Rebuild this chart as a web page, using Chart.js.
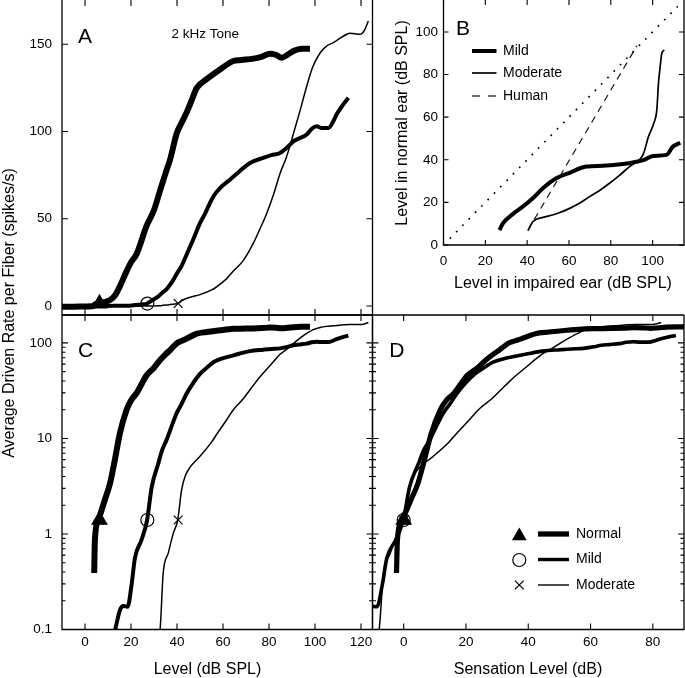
<!DOCTYPE html>
<html>
<head>
<meta charset="utf-8">
<script src="https://cdn.jsdelivr.net/npm/chart.js@4.4.1/dist/chart.umd.min.js"></script>
<style>
html,body{margin:0;padding:0;background:#fff;width:685px;height:678px;overflow:hidden}
canvas{position:absolute;left:0;top:0}
</style>
</head>
<body>
<canvas id="cA" width="685" height="678"></canvas>
<canvas id="cB" width="685" height="678"></canvas>
<canvas id="cC" width="685" height="678"></canvas>
<canvas id="cD" width="685" height="678"></canvas>
<script>
// ---------------- DATA ----------------
const levelTicks = [0, 20, 40, 60, 80, 100, 120];
const rateTicks = [0, 50, 100, 150];
const logTicks = [0.1, 1, 10, 100];
const logTickLabels = ['0.1', '1', '10', '100'];
const logMinorTicks = [0.2,0.3,0.4,0.5,0.6,0.7,0.8,0.9, 2,3,4,5,6,7,8,9, 20,30,40,50,60,70,80,90];
const slTicks = [0, 20, 40, 60, 80];
const bTicks = [0, 20, 40, 60, 80, 100];

// Panel A/C: level (dB SPL) vs average driven rate (spikes/s)
const normalLevel = [-10,-5,0,3,4,4.3,5.8,8.7,10.9,13,15.2,18.1,20,22.5,26.8,30,32.6,35,37,39.9,42,44.2,46.4,48.6,52.9,58.7,64.5,68,73.2,77,80.4,83,85.5,88,90.6,94,97.8];
const normalRate  = [-0.4,-0.4,-0.3,-0.2,0.39,0.87,1.4,2.3,3.4,6,11.4,20,25,30,46,55,66,76,84,99,105,111,118,125,130,135.6,140.4,141,141.8,143,144.6,144,142.3,144,146.2,147.5,147.5];

const mildLevel = [-10,0,8,13,15.2,16.7,18.5,20.3,21.7,24.6,27,29,31.9,33.5,35.5,38.4,39.9,42,44.2,47,50,52.2,55.8,59,63,67,71.7,77.5,81,84.8,88,90.6,93,96.4,98.5,100.7,103,105.8,108,109.4,112,114.5];
const mildRate  = [0.02,0.03,0.05,0.098,0.16,0.176,0.173,0.3,0.56,0.87,1.4,3.1,5.5,7.5,9.7,15,18.5,23,29.5,38,47.5,53,62.8,68,72.4,77,82,84.9,86.5,87.7,91,94.4,96,98.3,101.5,103,102,102,106,109.8,115,119.4];

const moderateLevel = [-10,10,20,28,32.6,34,36.2,38.4,40.3,42,43.5,45.7,50,55.1,57.2,61.6,64.5,68.8,73.2,76,79,82,84.8,87.5,89.8,93.5,96.4,99,102.2,105,108,111.5,115.2,119.6,121.5,123.2];
const moderateRate  = [0.02,0.02,0.03,0.05,0.098,0.39,0.63,1.02,1.4,2.9,4,5,6.5,9.2,11,15.7,20,26,36,44,53,64,76,85,95,112,126,137,145,149,151,154,156.3,155.7,158,163.4];

// thresholds (markers) : level in dB SPL, rate criterion
const thresholdLevels = { normal: 6.3, mild: 27.1, moderate: 40.5 };
const thresholdRate = 1.4;

// Panel B: level in impaired ear vs level in normal ear
const bMildImpaired = [26.8,27.5,28.4,31.6,34.5,37.9,42.7,47.5,53.9,60.3,68.3,76.2,85.8,92.2,96,100.2,106.6,109.7,113.2];
const bMildNormal   = [7,8.5,10.2,13.3,15.6,18,21.9,26.6,31.3,33.9,36.8,37.2,38,39.1,40,41.8,42.3,46.2,48];
const bModImpaired  = [40.4,41.5,42.7,45,49.1,55,60.3,65,69.9,75,79.4,84,89,93,95.5,98,100.5,102,102.8,103.6,104.4,105.6];
const bModNormal    = [6.7,9,10.9,12.3,13.3,15,17.2,19.6,22.7,25.8,29,32.6,36.8,39.5,42.5,50.8,57,63.4,76,83.7,90,91.5];
const bHumanImpaired = [40.4, 92.5];
const bHumanNormal   = [7, 93.5];
const bIdentity      = [3, 112];

// ---------------- HELPERS ----------------
const W = 685, H = 678;
const FONT = '"Liberation Sans", Arial, Helvetica, sans-serif';
Chart.defaults.font.family = FONT;
Chart.defaults.color = '#000';

const pts = (xs, ys) => xs.map((x, i) => ({ x: x, y: ys[i] }));
const shift = (xs, ys, t) => xs.map((x, i) => ({ x: x - t, y: ys[i] }));

function lineDs(data, width, extra) {
  return Object.assign({
    data: data, borderColor: '#000', borderWidth: width, pointRadius: 0,
    fill: false, showLine: true, cubicInterpolationMode: 'monotone',
    borderCapStyle: 'butt', borderJoinStyle: 'round', clip: 0
  }, extra || {});
}
function markerDs(x, y, style, r, filled) {
  return {
    data: [{ x: x, y: y }], showLine: false, pointStyle: style, pointRadius: r,
    pointBorderColor: '#000', pointBorderWidth: 1.2,
    pointBackgroundColor: filled ? '#000' : 'rgba(0,0,0,0)', clip: false
  };
}

function framePlugin(cfg) {
  return {
    id: 'frame',
    afterDatasetsDraw(chart) {
      const ctx = chart.ctx, a = chart.chartArea;
      const xs = chart.scales.x, ys = chart.scales.y;
      ctx.save();
      ctx.strokeStyle = '#000';
      ctx.lineWidth = 1.3;
      ctx.beginPath();
      const s = cfg.sides;
      if (s.includes('left'))   { ctx.moveTo(a.left, a.top);  ctx.lineTo(a.left, a.bottom); }
      if (s.includes('right'))  { ctx.moveTo(a.right, a.top); ctx.lineTo(a.right, a.bottom); }
      if (s.includes('top'))    { ctx.moveTo(a.left, a.top);  ctx.lineTo(a.right, a.top); }
      if (s.includes('bottom')) { ctx.moveTo(a.left - 0.65, a.bottom); ctx.lineTo(a.right + 0.65, a.bottom); }
      ctx.stroke();
      ctx.lineWidth = 1.1;
      ctx.beginPath();
      xs.ticks.forEach(t => {
        const p = xs.getPixelForValue(t.value);
        const L = t.minor ? cfg.minorLen : cfg.majorLen;
        ctx.moveTo(p, a.bottom); ctx.lineTo(p, a.bottom - L);
        ctx.moveTo(p, a.top);    ctx.lineTo(p, a.top + L);
      });
      ys.ticks.forEach(t => {
        const p = ys.getPixelForValue(t.value);
        const L = t.minor ? cfg.minorLen : cfg.majorLen;
        ctx.moveTo(a.left, p);  ctx.lineTo(a.left + L, p);
        ctx.moveTo(a.right, p); ctx.lineTo(a.right - L, p);
      });
      ctx.stroke();
      ctx.restore();
    }
  };
}

function textPlugin(items, extraDraw) {
  return {
    id: 'texts',
    afterDraw(chart) {
      const ctx = chart.ctx;
      items.forEach(it => {
        ctx.save();
        ctx.font = it.size + 'px ' + FONT;
        ctx.fillStyle = '#000';
        ctx.textAlign = it.align || 'left';
        ctx.textBaseline = it.baseline || 'alphabetic';
        ctx.translate(it.x, it.y);
        if (it.rotate) ctx.rotate(it.rotate);
        ctx.fillText(it.text, 0, 0);
        ctx.restore();
      });
      if (extraDraw) { ctx.save(); extraDraw(ctx); ctx.restore(); }
    }
  };
}

function makePanel(id, area, c) {
  const xH = c.xLabels ? 30 : 0;
  const yW = c.yLabels ? 50 : 0;
  const tickFont = { size: 13.5, family: FONT };
  return new Chart(document.getElementById(id), {
    type: 'line',
    data: { datasets: c.datasets },
    options: {
      responsive: false, animation: false, devicePixelRatio: 1, events: [],
      layout: {
        autoPadding: false,
        padding: { left: area.l - yW, right: W - area.r, top: area.t, bottom: H - area.b - xH }
      },
      plugins: { legend: { display: false }, tooltip: { enabled: false } },
      scales: {
        x: {
          type: 'linear', position: 'bottom', min: c.xMin, max: c.xMax,
          grid: { display: false, drawTicks: false }, border: { display: false },
          ticks: { display: c.xLabels, padding: c.xPad || 5, autoSkip: false, maxRotation: 0, font: tickFont, color: '#000',
                   callback: v => String(v) },
          afterBuildTicks: s => { s.ticks = c.xTicks.map(v => ({ value: v })); },
          afterFit: s => { s.height = xH; s.paddingLeft = 0; s.paddingRight = 0; }
        },
        y: {
          type: c.yType, position: 'left', min: c.yMin, max: c.yMax,
          grid: { display: false, drawTicks: false }, border: { display: false },
          ticks: { display: c.yLabels, padding: c.yPad || 10, autoSkip: false, font: tickFont, color: '#000',
                   callback: c.yCallback },
          afterBuildTicks: s => { s.ticks = c.yTickObjs(); },
          afterFit: s => { s.width = yW; s.paddingTop = 0; s.paddingBottom = 0; }
        }
      }
    },
    plugins: [framePlugin(c.frame), textPlugin(c.texts || [], c.extraDraw)]
  });
}

const logTickObjs = () => logTicks.map(v => ({ value: v })).concat(logMinorTicks.map(v => ({ value: v, minor: true })));
const logLabel = v => { const i = logTicks.indexOf(v); return i >= 0 ? logTickLabels[i] : ''; };

const NW = 6, MW = 4, TW = 1.5;

// ---------------- PANEL A ----------------
makePanel('cA', { l: 62, t: 0, r: 372.5, b: 315 }, {
  xMin: -10, xMax: 125, xTicks: levelTicks, xLabels: false,
  yType: 'linear', yMin: -5.16, yMax: 175.4, yLabels: true, yPad: 10,
  yTickObjs: () => rateTicks.map(v => ({ value: v })), yCallback: v => String(v),
  frame: { sides: ['left', 'right', 'bottom'], majorLen: 6, minorLen: 3.5 },
  datasets: [
    markerDs(thresholdLevels.normal, thresholdRate, 'triangle', 8.5, true),
    markerDs(thresholdLevels.mild, thresholdRate, 'circle', 6.5, false),
    markerDs(thresholdLevels.moderate, thresholdRate, 'crossRot', 6.2, false),
    lineDs(pts(moderateLevel, moderateRate), TW),
    lineDs(pts(mildLevel, mildRate), MW),
    lineDs(pts(normalLevel, normalRate), NW)
  ],
  texts: [
    { text: 'A', x: 78, y: 42.5, size: 21 },
    { text: '2 kHz Tone', x: 171.5, y: 38.3, size: 13.5 },
    { text: 'Average Driven Rate per Fiber (spikes/s)', x: 13.5, y: 313, size: 16, align: 'center', rotate: -Math.PI / 2 }
  ]
});

// ---------------- PANEL B ----------------
makePanel('cB', { l: 443.5, t: 0, r: 684, b: 245 }, {
  xMin: 0, xMax: 115, xTicks: bTicks, xLabels: true, xPad: 8,
  yType: 'linear', yMin: 0, yMax: 115, yLabels: true, yPad: 5.5,
  yTickObjs: () => bTicks.map(v => ({ value: v })), yCallback: v => String(v),
  frame: { sides: ['left', 'right', 'bottom'], majorLen: 5, minorLen: 3 },
  datasets: [
    lineDs(pts(bIdentity, bIdentity), 1.7, { borderDash: [1.7, 7.3], cubicInterpolationMode: 'default', borderColor: '#000' }),
    lineDs(pts(bHumanImpaired, bHumanNormal), 1.2, { borderDash: [7, 5.5], cubicInterpolationMode: 'default', borderColor: '#111' }),
    lineDs(pts(bModImpaired, bModNormal), 1.7),
    lineDs(pts(bMildImpaired, bMildNormal), 4)
  ],
  texts: [
    { text: 'B', x: 456, y: 35, size: 21 },
    { text: 'Mild', x: 503, y: 51, size: 14, baseline: 'middle' },
    { text: 'Moderate', x: 503, y: 73, size: 14, baseline: 'middle' },
    { text: 'Human', x: 503, y: 96, size: 14, baseline: 'middle' },
    { text: 'Level in impaired ear (dB SPL)', x: 563, y: 288, size: 16, align: 'center' },
    { text: 'Level in normal ear (dB SPL)', x: 406.5, y: 123, size: 16, align: 'center', rotate: -Math.PI / 2 }
  ],
  extraDraw: ctx => {
    ctx.strokeStyle = '#000';
    ctx.lineCap = 'butt';
    ctx.lineWidth = 4; ctx.beginPath(); ctx.moveTo(472, 51); ctx.lineTo(496.5, 51); ctx.stroke();
    ctx.lineWidth = 1.7; ctx.beginPath(); ctx.moveTo(472, 73); ctx.lineTo(496.5, 73); ctx.stroke();
    ctx.strokeStyle = '#111';
    ctx.lineWidth = 1.2; ctx.setLineDash([8, 8]); ctx.beginPath(); ctx.moveTo(472, 96); ctx.lineTo(497, 96); ctx.stroke();
  }
});

// ---------------- PANEL C ----------------
makePanel('cC', { l: 62, t: 315, r: 372.5, b: 629.5 }, {
  xMin: -10, xMax: 125, xTicks: levelTicks, xLabels: true, xPad: 5,
  yType: 'logarithmic', yMin: 0.1, yMax: 196, yLabels: true, yPad: 10,
  yTickObjs: logTickObjs, yCallback: logLabel,
  frame: { sides: ['left', 'right', 'top', 'bottom'], majorLen: 6, minorLen: 3.5 },
  datasets: [
    markerDs(thresholdLevels.normal, thresholdRate, 'triangle', 8.5, true),
    markerDs(thresholdLevels.mild, thresholdRate, 'circle', 6.5, false),
    markerDs(thresholdLevels.moderate, thresholdRate, 'crossRot', 6.2, false),
    lineDs(pts(moderateLevel, moderateRate), TW),
    lineDs(pts(mildLevel, mildRate), MW),
    lineDs(pts(normalLevel, normalRate), NW)
  ],
  texts: [
    { text: 'C', x: 78, y: 356.7, size: 21 },
    { text: 'Level (dB SPL)', x: 207.5, y: 674, size: 16, align: 'center' }
  ]
});

// ---------------- PANEL D ----------------
makePanel('cD', { l: 372.5, t: 315, r: 684, b: 629.5 }, {
  xMin: -10, xMax: 90, xTicks: slTicks, xLabels: true, xPad: 5,
  yType: 'logarithmic', yMin: 0.1, yMax: 196, yLabels: false,
  yTickObjs: logTickObjs, yCallback: logLabel,
  frame: { sides: ['left', 'right', 'top', 'bottom'], majorLen: 6, minorLen: 3.5 },
  datasets: [
    markerDs(0, thresholdRate, 'triangle', 8.5, true),
    markerDs(0, thresholdRate, 'circle', 6.5, false),
    markerDs(0, thresholdRate, 'crossRot', 6.2, false),
    lineDs(shift(moderateLevel, moderateRate, thresholdLevels.moderate), TW),
    lineDs(shift(mildLevel, mildRate, thresholdLevels.mild), 3.6),
    lineDs(shift(normalLevel, normalRate, thresholdLevels.normal), 5.2)
  ],
  texts: [
    { text: 'D', x: 389.3, y: 356.7, size: 21 },
    { text: 'Sensation Level (dB)', x: 528, y: 674, size: 16, align: 'center' },
    { text: 'Normal', x: 576, y: 534, size: 14, baseline: 'middle' },
    { text: 'Mild', x: 576, y: 559.5, size: 14, baseline: 'middle' },
    { text: 'Moderate', x: 576, y: 585, size: 14, baseline: 'middle' }
  ],
  extraDraw: ctx => {
    ctx.strokeStyle = '#000'; ctx.fillStyle = '#000'; ctx.lineCap = 'butt';
    // triangle marker
    const r = 8.5, cx = 519.3, cy = 536;
    ctx.beginPath();
    ctx.moveTo(cx, cy - r);
    ctx.lineTo(cx + 0.866 * r, cy + r / 2);
    ctx.lineTo(cx - 0.866 * r, cy + r / 2);
    ctx.closePath(); ctx.fill();
    // circle marker
    ctx.lineWidth = 1.2;
    ctx.beginPath(); ctx.arc(519.3, 560, 6.5, 0, Math.PI * 2); ctx.stroke();
    // cross marker
    const d = 4.4;
    ctx.beginPath();
    ctx.moveTo(519.3 - d, 585 - d); ctx.lineTo(519.3 + d, 585 + d);
    ctx.moveTo(519.3 + d, 585 - d); ctx.lineTo(519.3 - d, 585 + d);
    ctx.stroke();
    // lines
    ctx.lineWidth = 5.3; ctx.beginPath(); ctx.moveTo(538, 534); ctx.lineTo(569, 534); ctx.stroke();
    ctx.lineWidth = 3.4; ctx.beginPath(); ctx.moveTo(538, 559.5); ctx.lineTo(569, 559.5); ctx.stroke();
    ctx.lineWidth = 1.4; ctx.beginPath(); ctx.moveTo(538, 585); ctx.lineTo(569, 585); ctx.stroke();
  }
});
</script>
</body>
</html>
